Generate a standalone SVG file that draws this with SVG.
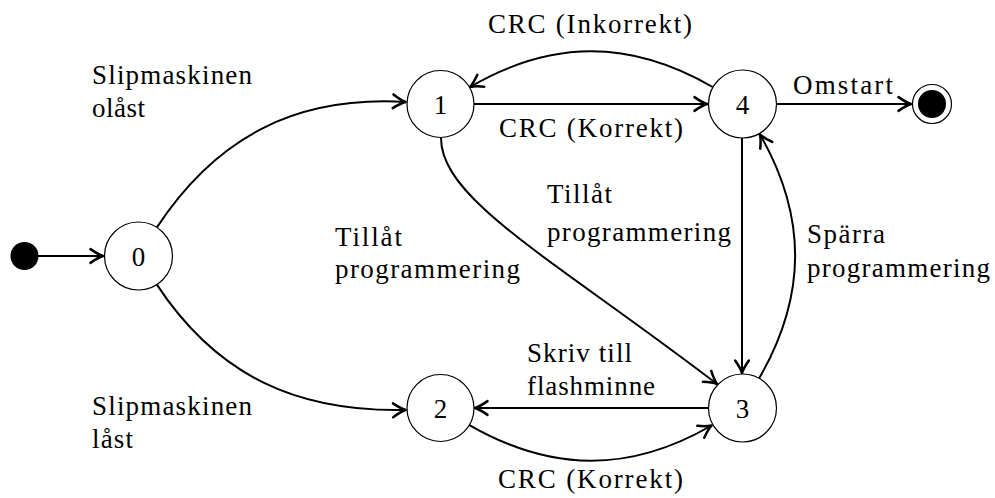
<svg xmlns="http://www.w3.org/2000/svg" width="995" height="498" viewBox="0 0 995 498">
<style>
  .node circle { fill: #fff; stroke: #000; stroke-width: 1.2; }
  .num { font-family: 'Liberation Serif', 'DejaVu Serif', serif; font-size: 27px; text-anchor: middle; fill: #000; }
  .lbl { font-family: 'Liberation Serif', 'DejaVu Serif', serif; font-size: 27px; fill: #000; }
  .edge { fill: none; stroke: #000; stroke-width: 2; marker-end: url(#arr); }
</style>
<defs>
  <marker id="arr" markerUnits="userSpaceOnUse" markerWidth="20" markerHeight="20" viewBox="-12 -8 16 16" refX="0" refY="0" orient="auto" overflow="visible">
    <path d="M-10,-5.5 Q-4,-1.3 0,0 Q-4,1.3 -10,5.5" fill="none" stroke="#000" stroke-width="2" stroke-linecap="round" stroke-linejoin="round"/>
  </marker>
</defs>
<rect width="995" height="498" fill="#fff"/>
<g id="connectors">
  <path class="edge" d="M38,256 L103,256"/>
  <path class="edge" d="M156.7,227.6 C217,136 297,95.7 405.6,102"/>
  <path class="edge" d="M156.7,284.4 C217,376 297,412.3 405.6,410"/>
  <path class="edge" d="M474,104 L707,104"/>
  <path class="edge" d="M712.6,87 C630,39.3 551.6,39.6 470,87"/>
  <path class="edge" d="M776,104 L911,104"/>
  <path class="edge" d="M441,138 C441,200 555,260 717,384"/>
  <path class="edge" d="M742,138 L742,373"/>
  <path class="edge" d="M759,378.6 C807,295.6 807,216.6 760,134.5"/>
  <path class="edge" d="M708,408 L475,408"/>
  <path class="edge" d="M469,424.8 C551.6,472.5 630,472.7 711.6,425.5"/>
</g>
<g id="start"><circle cx="24.5" cy="256" r="14" fill="#000"/></g>
<g id="n0" class="node"><circle cx="138.5" cy="256" r="34"/><text class="num" x="138.5" y="265.5">0</text></g>
<g id="n1" class="node"><circle cx="440.5" cy="104" r="33.5"/><text class="num" x="440.5" y="113.5">1</text></g>
<g id="n4" class="node"><circle cx="742.5" cy="104" r="34"/><text class="num" x="742.5" y="113.5">4</text></g>
<g id="n2" class="node"><circle cx="440.5" cy="408" r="33.5"/><text class="num" x="440.5" y="417.5">2</text></g>
<g id="n3" class="node"><circle cx="742.5" cy="408" r="34"/><text class="num" x="742.5" y="417.5">3</text></g>
<g id="final"><circle cx="932" cy="104" r="19.5" fill="#fff" stroke="#000" stroke-width="1.2"/><circle cx="932" cy="104" r="14" fill="#000"/></g>
<g id="labels">
  <text class="lbl" x="92" y="84" textLength="160" lengthAdjust="spacing">Slipmaskinen</text>
  <text class="lbl" x="92" y="117" textLength="53" lengthAdjust="spacing">olåst</text>
  <text class="lbl" x="92" y="415" textLength="160" lengthAdjust="spacing">Slipmaskinen</text>
  <text class="lbl" x="92" y="448" textLength="41" lengthAdjust="spacing">låst</text>
  <text class="lbl" x="335" y="246" textLength="67" lengthAdjust="spacing">Tillåt</text>
  <text class="lbl" x="335" y="278" textLength="185" lengthAdjust="spacing">programmering</text>
  <text class="lbl" x="547" y="203" textLength="65" lengthAdjust="spacing">Tillåt</text>
  <text class="lbl" x="547" y="241" textLength="184" lengthAdjust="spacing">programmering</text>
  <text class="lbl" x="807" y="243" textLength="78" lengthAdjust="spacing">Spärra</text>
  <text class="lbl" x="807" y="277" textLength="183" lengthAdjust="spacing">programmering</text>
  <text class="lbl" x="488" y="33" textLength="204" lengthAdjust="spacing">CRC (Inkorrekt)</text>
  <text class="lbl" x="499" y="137" textLength="184" lengthAdjust="spacing">CRC (Korrekt)</text>
  <text class="lbl" x="793" y="94" textLength="100" lengthAdjust="spacing">Omstart</text>
  <text class="lbl" x="527" y="362" textLength="105" lengthAdjust="spacing">Skriv till</text>
  <text class="lbl" x="527" y="395" textLength="128" lengthAdjust="spacing">flashminne</text>
  <text class="lbl" x="498" y="488" textLength="185" lengthAdjust="spacing">CRC (Korrekt)</text>
</g>
</svg>
